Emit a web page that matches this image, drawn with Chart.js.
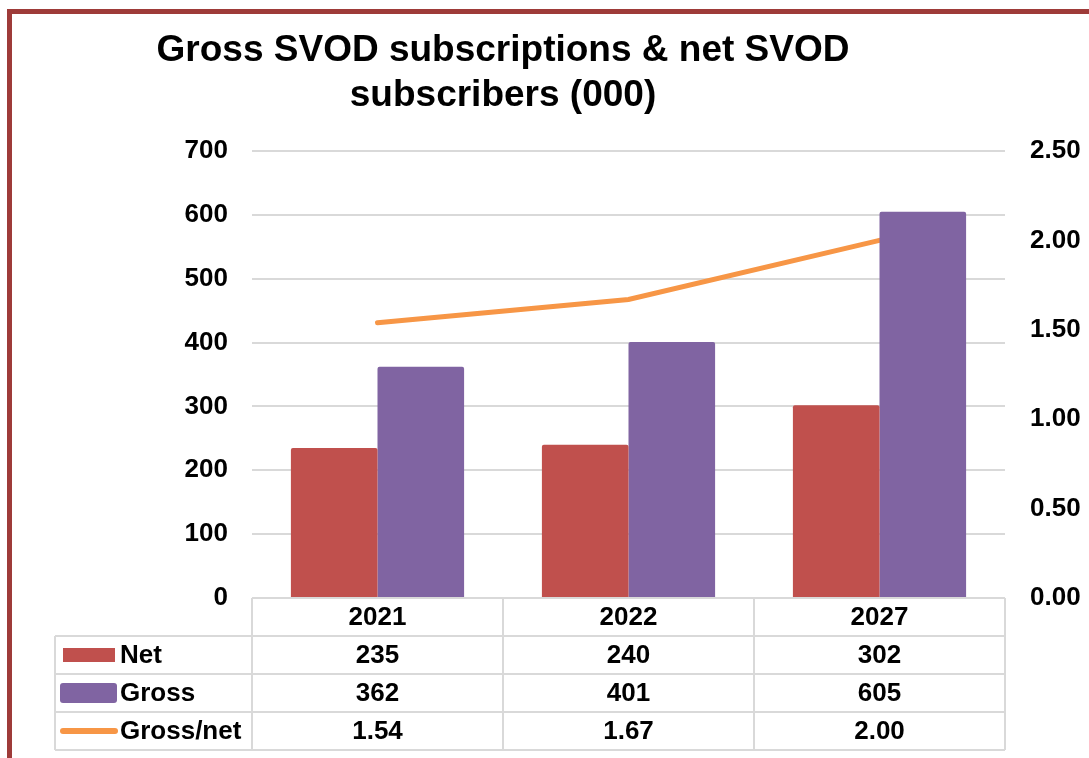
<!DOCTYPE html>
<html>
<head>
<meta charset="utf-8">
<script src="https://cdn.jsdelivr.net/npm/chart.js@4.4.1/dist/chart.umd.min.js"></script>
<style>
  body { margin:0; background:#fff; }
  #wrap { position:relative; width:1089px; height:758px; overflow:hidden; }
  #frame { position:absolute; left:7px; top:9px; width:1200px; height:900px;
           border-left:5px solid #9E3B39; border-top:5px solid #9E3B39; }
  canvas { position:absolute; left:0; top:0; }
</style>
</head>
<body>
<div id="wrap">
  <div id="frame"></div>
  <canvas id="chart" width="1089" height="758"></canvas>
</div>
<script>
/* DATA */
const years = ["2021","2022","2027"];
const net = [235,240,302];
const gross = [362,401,605];
const ratio = [1.54,1.67,2.00];
const titleLines = ["Gross SVOD subscriptions & net SVOD","subscribers (000)"];

const FONT = "'Liberation Sans', Arial, sans-serif";
const GRID = "#d9d9d9";
const C_NET = "#C0504D", C_GROSS = "#8064A2", C_RATIO = "#F79646";

/* TITRE + TABLE */
const tablePlugin = {
  id:"tablePlugin",
  afterDraw(chart){
    const ctx = chart.ctx;
    const x = chart.scales.x, area = chart.chartArea;
    const colW = (area.right - area.left) / years.length;
    const top = area.bottom, rowH = 38, legL = 55;
    ctx.save();

    // titre
    ctx.fillStyle = "#000";
    ctx.font = "bold 37px " + FONT;
    ctx.textAlign = "center";
    ctx.textBaseline = "middle";
    ctx.fillText(titleLines[0], 503, 51);
    ctx.fillText(titleLines[1], 503, 96);

    // lignes de la table
    ctx.strokeStyle = GRID;
    ctx.lineWidth = 2;
    ctx.beginPath();
    ctx.moveTo(area.left, top); ctx.lineTo(area.right, top);
    for (let r=1;r<=4;r++){
      ctx.moveTo(legL, top + r*rowH); ctx.lineTo(area.right, top + r*rowH);
    }
    ctx.moveTo(legL, top + rowH); ctx.lineTo(legL, top + 4*rowH);
    for (let c=0;c<=years.length;c++){
      const cx = area.left + c*colW;
      ctx.moveTo(cx, top); ctx.lineTo(cx, top + 4*rowH);
    }
    ctx.stroke();

    // textes
    ctx.font = "bold 26px " + FONT;
    ctx.fillStyle = "#000";
    ctx.textAlign = "center";
    const rows = [years, net.map(String), gross.map(String), ratio.map(v=>v.toFixed(2))];
    rows.forEach((row,r)=>{
      row.forEach((t,i)=>{
        ctx.fillText(t, x.getPixelForValue(i), top + r*rowH + rowH/2 + 1);
      });
    });

    // légende
    const labels = ["Net","Gross","Gross/net"];
    ctx.textAlign = "left";
    labels.forEach((l,i)=>{
      const cy = top + (i+1)*rowH + rowH/2;
      if (i===0){ ctx.fillStyle = C_NET; ctx.fillRect(63, cy-7, 52, 14); }
      if (i===1){ ctx.fillStyle = C_GROSS; ctx.beginPath(); ctx.roundRect(60, cy-10, 57, 20, 3); ctx.fill(); }
      if (i===2){
        ctx.strokeStyle = C_RATIO; ctx.lineWidth = 6; ctx.lineCap = "round";
        ctx.beginPath(); ctx.moveTo(63, cy); ctx.lineTo(115, cy); ctx.stroke();
      }
      ctx.fillStyle = "#000";
      ctx.fillText(l, 120, cy + 1);
    });
    ctx.restore();
  }
};

new Chart(document.getElementById("chart"),{
  data:{
    labels:years,
    datasets:[
      {type:"bar",label:"Net",data:net,backgroundColor:C_NET,yAxisID:"y",order:1,
       borderRadius:2,categoryPercentage:0.69,barPercentage:1},
      {type:"bar",label:"Gross",data:gross,backgroundColor:C_GROSS,yAxisID:"y",order:1,
       borderRadius:2,categoryPercentage:0.69,barPercentage:1},
      {type:"line",label:"Gross/net",data:ratio,borderColor:C_RATIO,borderWidth:5,
       borderCapStyle:"round",pointRadius:0,tension:0,yAxisID:"y1",order:3}
    ]
  },
  options:{
    responsive:false,
    animation:false,
    layout:{padding:{top:151,bottom:160,left:0,right:0}},
    plugins:{legend:{display:false},tooltip:{enabled:false},title:{display:false}},
    scales:{
      x:{display:false,offset:true},
      y:{
        position:"left",min:0,max:700,
        ticks:{stepSize:100,padding:24,color:"#000",font:{family:FONT,size:26,weight:"bold"}},
        grid:{color:GRID,lineWidth:2,drawTicks:false},
        border:{display:false},
        afterFit(s){ s.width = 252; }
      },
      y1:{
        position:"right",min:0,max:2.5,
        ticks:{stepSize:0.5,padding:25,color:"#000",font:{family:FONT,size:26,weight:"bold"},
               callback:v=>v.toFixed(2)},
        grid:{display:false,drawTicks:false},
        border:{display:false},
        afterFit(s){ s.width = 84; }
      }
    }
  },
  plugins:[tablePlugin]
});
</script>
</body>
</html>
